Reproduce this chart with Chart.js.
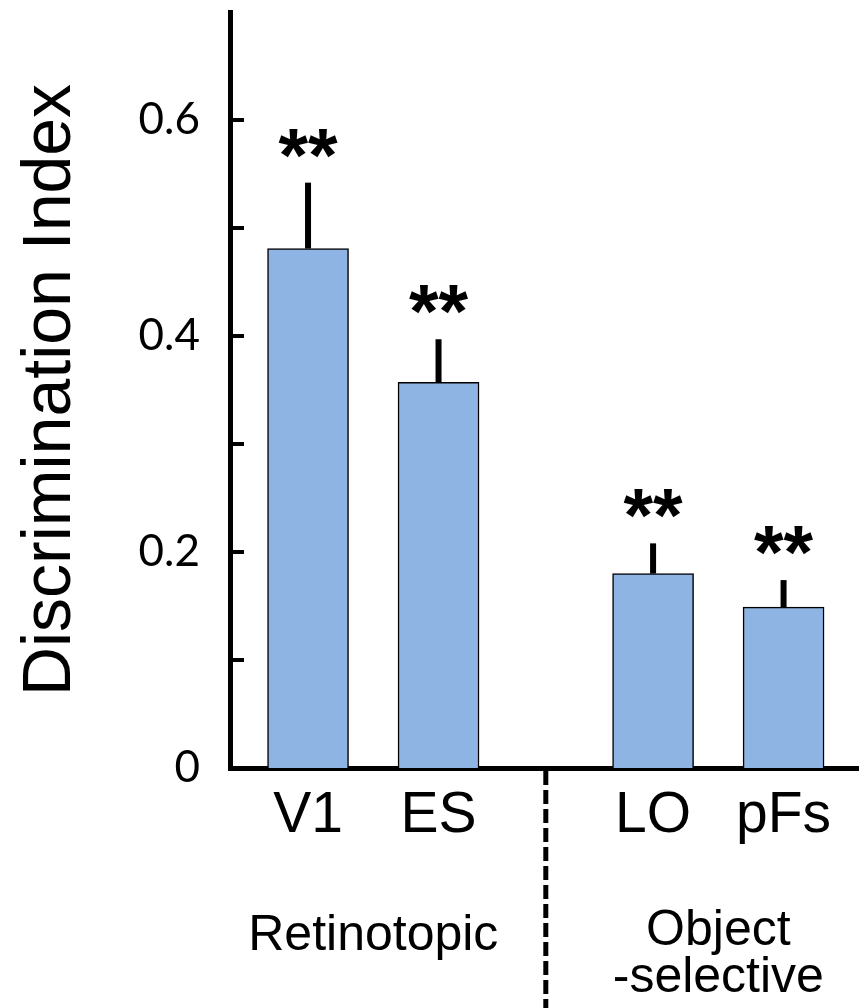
<!DOCTYPE html>
<html>
<head>
<meta charset="utf-8">
<script src="https://cdn.jsdelivr.net/npm/chart.js@4"></script>
<style>
  html, body { margin: 0; padding: 0; background: #fff; }
  #wrap { width: 859px; height: 1008px; position: relative; }
</style>
</head>
<body>
<div id="wrap"><canvas id="c"></canvas></div>
<script>
// ---- data ----
const categories = ['V1', 'ES', 'LO', 'pFs'];
const values = [0.481, 0.357, 0.180, 0.149];
const errors = [0.061, 0.040, 0.028, 0.025];
const marks = ['**', '**', '**', '**'];
const groupNames = ['Retinotopic', 'Object\n-selective'];
const groupMembers = [[0, 1], [2, 3]];
const yTickLabels = ['0', '0.2', '0.4', '0.6'];

// ---- layout helpers ----
const GROUP_GAP = 0.644;
const xPos = categories.map((c, i) => i + (i >= 2 ? GROUP_GAP : 0));

const annotPlugin = {
  id: 'annot',
  afterDatasetsDraw(chart) {
    const { ctx, scales: { x, y }, chartArea } = chart;
    ctx.save();
    // inside tick marks
    ctx.strokeStyle = '#000';
    ctx.lineWidth = 4;
    for (let k = 1; k <= 6; k++) {
      const py = Math.round(y.getPixelForValue(k / 10));
      ctx.beginPath();
      ctx.moveTo(chartArea.left, py);
      ctx.lineTo(chartArea.left + 14, py);
      ctx.stroke();
    }
    // error bars + significance marks
    values.forEach((v, i) => {
      const px = x.getPixelForValue(xPos[i]);
      const top = y.getPixelForValue(v + errors[i]);
      ctx.lineWidth = 6;
      ctx.beginPath();
      ctx.moveTo(px, y.getPixelForValue(v));
      ctx.lineTo(px, top);
      ctx.stroke();
      ctx.fillStyle = '#000';
      ctx.font = 'bold 76px "Liberation Sans", Arial, sans-serif';
      ctx.textAlign = 'center';
      ctx.textBaseline = 'alphabetic';
      ctx.fillText(marks[i], px, top - 2);
    });
    ctx.restore();
  },
  afterDraw(chart) {
    const { ctx, scales: { x }, chartArea } = chart;
    ctx.save();
    // dashed separator
    const sx = x.getPixelForValue((xPos[1] + xPos[2]) / 2);
    ctx.strokeStyle = '#000';
    ctx.lineWidth = 5;
    ctx.setLineDash([14, 5]);
    ctx.beginPath();
    ctx.moveTo(sx, chartArea.bottom + 3);
    ctx.lineTo(sx, chart.height);
    ctx.stroke();
    ctx.setLineDash([]);
    // group labels
    ctx.fillStyle = '#000';
    ctx.font = '50px "Liberation Sans", Arial, sans-serif';
    ctx.textAlign = 'center';
    ctx.textBaseline = 'alphabetic';
    groupNames.forEach((g, gi) => {
      const m = groupMembers[gi];
      const cx = (x.getPixelForValue(xPos[m[0]]) + x.getPixelForValue(xPos[m[1]])) / 2;
      const lines = g.split('\n');
      if (lines.length === 1) {
        ctx.fillText(lines[0], cx, chartArea.bottom + 182);
      } else {
        lines.forEach((ln, li) => ctx.fillText(ln, cx, chartArea.bottom + 177 + li * 47));
      }
    });
    ctx.restore();
  }
};

new Chart(document.getElementById('c'), {
  type: 'bar',
  data: {
    datasets: [{
      data: values.map((v, i) => ({ x: xPos[i], y: v })),
      backgroundColor: '#8EB4E3',
      borderColor: '#000',
      borderWidth: 1.5,
      barThickness: 81
    }]
  },
  options: {
    responsive: true,
    maintainAspectRatio: false,
    animation: false,
    layout: { padding: { top: 12, right: 0, left: 0, bottom: 0 } },
    plugins: { legend: { display: false }, tooltip: { enabled: false } },
    scales: {
      x: {
        type: 'linear',
        min: -0.598,
        max: 4.222,
        offset: false,
        grid: { display: false, drawTicks: false },
        border: { display: true, color: '#000', width: 5 },
        afterBuildTicks: (scale) => { scale.ticks = xPos.map(v => ({ value: v })); },
        afterFit: (scale) => { scale.height = 240; scale.paddingLeft = 0; scale.paddingRight = 0; },
        ticks: {
          autoSkip: false,
          maxRotation: 0,
          padding: 14,
          color: '#000',
          font: { family: '"Liberation Sans", Arial, sans-serif', size: 57 },
          callback: (val) => {
            let best = 0;
            xPos.forEach((p, i) => { if (Math.abs(p - val) < Math.abs(xPos[best] - val)) best = i; });
            return categories[best];
          }
        }
      },
      y: {
        min: 0,
        max: 0.7,
        grid: { display: false, drawTicks: false },
        border: { display: true, color: '#000', width: 5 },
        afterFit: (scale) => { scale.width = 230; scale.paddingTop = 0; scale.paddingBottom = 0; },
        ticks: {
          stepSize: 0.1,
          padding: 30,
          color: '#000',
          font: { family: 'Lato, "Open Sans", sans-serif', size: 44 },
          callback: (v) => {
            const k = Math.round(v * 10);
            return k % 2 === 0 ? yTickLabels[k / 2] : '';
          }
        },
        title: {
          display: true,
          text: 'Discrimination Index',
          color: '#000',
          font: { family: '"Liberation Sans", Arial, sans-serif', size: 68 },
          padding: { top: 10, bottom: 0 }
        }
      }
    }
  },
  plugins: [annotPlugin]
});
</script>
</body>
</html>
